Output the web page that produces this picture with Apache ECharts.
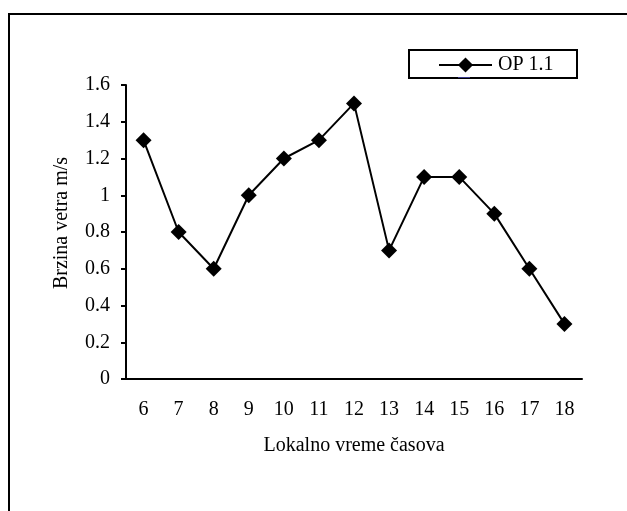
<!DOCTYPE html>
<html><head><meta charset="utf-8">
<script src="https://cdn.jsdelivr.net/npm/echarts@6/dist/echarts.min.js"></script>
<style>html,body{margin:0;padding:0;background:#fff}#c{width:627px;height:511px}</style>
</head><body><div id="c"></div>
<script>
const categories = ['6','7','8','9','10','11','12','13','14','15','16','17','18'];
const seriesName = 'OP 1.1';
const values = [1.3,0.8,0.6,1.0,1.2,1.3,1.5,0.7,1.1,1.1,0.9,0.6,0.3];
const yTicks = {min:0, max:1.6, interval:0.2};
const xTitle = 'Lokalno vreme časova';
const yTitle = 'Brzina vetra m/s';
const font = 'Liberation Serif';
const chart = echarts.init(document.getElementById('c'));
chart.setOption({
  animation:false,
  backgroundColor:'#fff',
  graphic:[
    {type:'rect', shape:{x:9, y:14, width:700, height:600}, style:{fill:'none', stroke:'#000', lineWidth:2}},
    {type:'rect', shape:{x:409, y:50, width:168, height:28}, style:{fill:'none', stroke:'#000', lineWidth:2}},
    {type:'line', shape:{x1:458, y1:77.5, x2:470, y2:77.5}, style:{stroke:'#3a3a8c', lineWidth:1}, z:10},
    {type:'text', x:62, y:223, rotation:Math.PI/2,
      style:{text:yTitle, fontFamily:font, fontSize:20, fill:'#000', align:'center', verticalAlign:'middle'}}
  ],
  grid:{left:126, right:45, top:85, bottom:132},
  legend:{left:438, top:55, itemWidth:53, itemHeight:19, padding:0,
    textStyle:{fontFamily:font, fontSize:20, color:'#000', padding:[0,0,0,1]},
    data:[seriesName]},
  xAxis:{type:'category', data:categories,
    name:xTitle, nameLocation:'middle', nameGap:57,
    nameTextStyle:{fontFamily:font, fontSize:20, color:'#000'},
    axisLine:{lineStyle:{color:'#000', width:2}},
    axisTick:{length:6, lineStyle:{color:'#000', width:2}},
    axisLabel:{fontFamily:font, fontSize:20, color:'#000', margin:21}},
  yAxis:{type:'value', min:yTicks.min, max:yTicks.max, interval:yTicks.interval,
    splitLine:{show:false},
    axisLine:{show:true, lineStyle:{color:'#000', width:2}},
    axisTick:{show:true, length:5, lineStyle:{color:'#000', width:2}},
    axisLabel:{fontFamily:font, fontSize:20, color:'#000', margin:16}},
  series:[{name:seriesName, type:'line', data:values, symbol:'diamond', symbolSize:16,
    lineStyle:{color:'#000', width:2}, itemStyle:{color:'#000'}}]
});
</script></body></html>
